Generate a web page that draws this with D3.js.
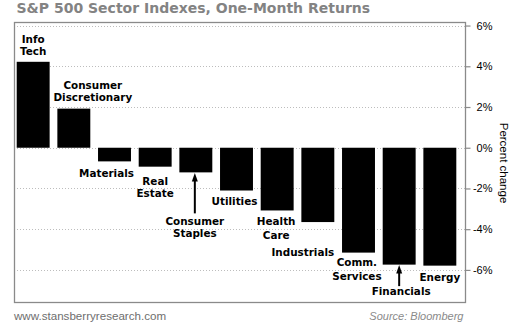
<!DOCTYPE html>
<html>
<head>
<meta charset="utf-8">
<script src="https://cdn.jsdelivr.net/npm/d3@7"></script>
<style>
  html, body { margin: 0; padding: 0; background: #fff; }
  svg { display: block; }
</style>
</head>
<body>
<svg id="chart" width="510" height="325"></svg>
<script>
// ---- data ----
const categories = ["Info Tech", "Consumer Discretionary", "Materials", "Real Estate",
  "Consumer Staples", "Utilities", "Health Care", "Industrials",
  "Comm. Services", "Financials", "Energy"];
const returns = [4.22, 1.92, -0.67, -0.93, -1.21, -2.10, -3.08, -3.65, -5.15, -5.74, -5.79];
const labelLines = [["Info", "Tech"], ["Consumer", "Discretionary"], ["Materials"], ["Real", "Estate"],
  ["Consumer", "Staples"], ["Utilities"], ["Health", "Care"], ["Industrials"],
  ["Comm.", "Services"], ["Financials"], ["Energy"]];
const tickValues = [-6, -4, -2, 0, 2, 4, 6];
const titleText = "S&P 500 Sector Indexes, One-Month Returns";
const yAxisTitle = "Percent change";
const footerLeft = "www.stansberryresearch.com";
const footerRight = "Source: Bloomberg";

// ---- layout (label placement relative to bar end, pixels) ----
const labelLayout = [
  { dx: 0,   dy: -18.5, arrow: 0 },
  { dx: 19,  dy: -20,   arrow: 0 },
  { dx: -8,  dy: 15.6,  arrow: 0 },
  { dx: 0,   dy: 18,    arrow: 0 },
  { dx: -1,  dy: 52.3,  arrow: 41 },
  { dx: -2,  dy: 14.3,  arrow: 0 },
  { dx: -1,  dy: 15,    arrow: 0 },
  { dx: -15, dy: 34.4,  arrow: 0 },
  { dx: -1.6,dy: 13,    arrow: 0 },
  { dx: 2,   dy: 30.5,  arrow: 21.5 },
  { dx: 0,   dy: 15.5,  arrow: 0 }
];
const lineHeight = 13;

const plot = { left: 14, right: 465, top: 22.5, bottom: 302.5 };

const svg = d3.select("#chart");

const x = d3.scaleBand()
  .domain(categories)
  .range([11, 462])
  .paddingInner(0.19)
  .paddingOuter(0.14);

const y = d3.scaleLinear()
  .domain([-7.6, 6.15])
  .range([plot.bottom, plot.top]);

// gridlines
svg.append("g")
  .selectAll("line")
  .data(tickValues)
  .join("line")
  .attr("x1", plot.left)
  .attr("x2", plot.right)
  .attr("y1", d => Math.round(y(d)) + 0.5)
  .attr("y2", d => Math.round(y(d)) + 0.5)
  .attr("stroke", "#bdbdbd")
  .attr("stroke-width", 1)
  .attr("stroke-dasharray", "1,2");

// bars
svg.append("g")
  .selectAll("rect")
  .data(returns)
  .join("rect")
  .attr("x", (d, i) => x(categories[i]))
  .attr("width", x.bandwidth())
  .attr("y", d => y(Math.max(0, d)))
  .attr("height", d => Math.abs(y(d) - y(0)))
  .attr("fill", "#000");

// plot frame
svg.append("rect")
  .attr("x", plot.left + 0.5)
  .attr("y", plot.top)
  .attr("width", plot.right - plot.left)
  .attr("height", plot.bottom - plot.top)
  .attr("fill", "none")
  .attr("stroke", "#8a8a8a")
  .attr("stroke-width", 1.3);

// right axis
const yAxis = d3.axisRight(y)
  .tickValues(tickValues)
  .tickSize(5)
  .tickPadding(7)
  .tickFormat(d => d + "%");

const ax = svg.append("g")
  .attr("transform", `translate(${plot.right + 0.5},0)`)
  .call(yAxis);
ax.select(".domain").remove();
ax.selectAll(".tick line").attr("stroke", "#8a8a8a").attr("stroke-width", 1.2);
ax.selectAll(".tick text")
  .attr("x", 27)
  .attr("text-anchor", "end")
  .attr("font-family", "'Liberation Sans', Arial, sans-serif")
  .attr("font-size", 11)
  .attr("fill", "#000");

// axis title
svg.append("text")
  .attr("transform", "translate(499.5,163) rotate(90)")
  .attr("text-anchor", "middle")
  .attr("font-family", "'Liberation Sans', Arial, sans-serif")
  .attr("font-size", 11.5)
  .attr("fill", "#000")
  .text(yAxisTitle);

// category labels
const lblG = svg.append("g")
  .attr("font-family", "'DejaVu Sans', Verdana, sans-serif")
  .attr("font-weight", "bold")
  .attr("font-size", 10.4)
  .attr("fill", "#000")
  .attr("text-anchor", "middle");

categories.forEach((c, i) => {
  const v = returns[i];
  const cx = x(c) + x.bandwidth() / 2;
  const end = y(v);
  const L = labelLayout[i];
  const lines = labelLines[i];
  let base;
  if (v >= 0) {
    base = end + L.dy - (lines.length - 1) * lineHeight + (lines.length - 1) * lineHeight;
    base = end + L.dy;
  } else {
    base = end + L.dy;
  }
  const t = lblG.append("text")
    .attr("x", cx + L.dx)
    .attr("y", base);
  lines.forEach((ln, k) => {
    t.append("tspan")
      .attr("x", cx + L.dx)
      .attr("y", base + k * (v >= 0 ? 12 : (i === 6 ? 13.3 : (i === 8 ? 14.3 : 12.5))))
      .text(ln);
  });
  if (L.arrow > 0) {
    const ax0 = cx + (i === 9 ? 0 : -1);
    svg.append("line")
      .attr("x1", ax0).attr("x2", ax0)
      .attr("y1", end + 6).attr("y2", end + L.arrow)
      .attr("stroke", "#000").attr("stroke-width", 2);
    svg.append("path")
      .attr("d", `M${ax0},${end + 0.5} L${ax0 - 3},${end + 9} L${ax0 + 3},${end + 9} Z`)
      .attr("fill", "#000");
  }
});

// title
svg.append("text")
  .attr("x", 16.5)
  .attr("y", 13)
  .attr("font-family", "'DejaVu Sans', Verdana, sans-serif")
  .attr("font-weight", "bold")
  .attr("font-size", 14)
  .attr("fill", "#838383")
  .text(titleText);

// footer
svg.append("text")
  .attr("x", 14)
  .attr("y", 320)
  .attr("font-family", "'Liberation Sans', Arial, sans-serif")
  .attr("font-size", 11.6)
  .attr("fill", "#6e6e6e")
  .text(footerLeft);

svg.append("text")
  .attr("x", 463.5)
  .attr("y", 319.5)
  .attr("text-anchor", "end")
  .attr("font-family", "'Liberation Sans', Arial, sans-serif")
  .attr("font-style", "italic")
  .attr("font-size", 11)
  .attr("fill", "#8a8a8a")
  .text(footerRight);
</script>
</body>
</html>
